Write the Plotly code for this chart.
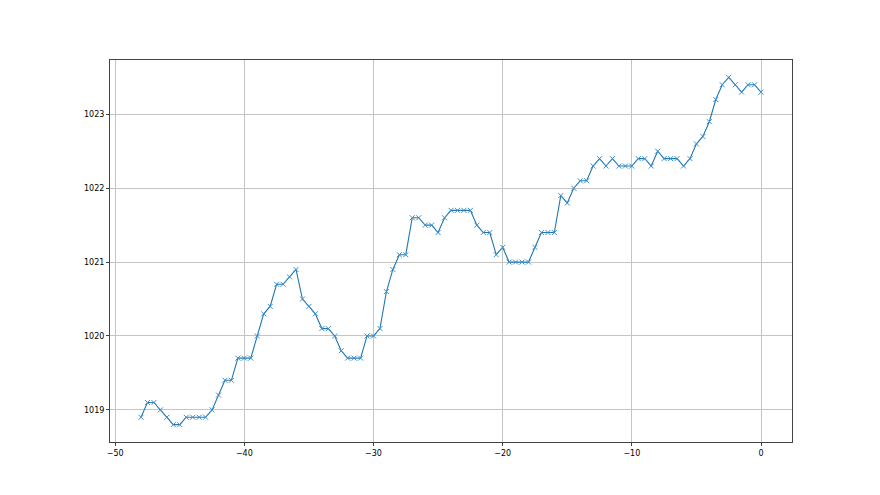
import plotly.graph_objects as go

# hours relative to now
hours = [
    -48.0, -47.5, -47.0, -46.5, -46.0, -45.5, -45.0, -44.5, -44.0, -43.5,
    -43.0, -42.5, -42.0, -41.5, -41.0, -40.5, -40.0, -39.5, -39.0, -38.5,
    -38.0, -37.5, -37.0, -36.5, -36.0, -35.5, -35.0, -34.5, -34.0, -33.5,
    -33.0, -32.5, -32.0, -31.5, -31.0, -30.5, -30.0, -29.5, -29.0, -28.5,
    -28.0, -27.5, -27.0, -26.5, -26.0, -25.5, -25.0, -24.5, -24.0, -23.5,
    -23.0, -22.5, -22.0, -21.5, -21.0, -20.5, -20.0, -19.5, -19.0, -18.5,
    -18.0, -17.5, -17.0, -16.5, -16.0, -15.5, -15.0, -14.5, -14.0, -13.5,
    -13.0, -12.5, -12.0, -11.5, -11.0, -10.5, -10.0, -9.5, -9.0, -8.5,
    -8.0, -7.5, -7.0, -6.5, -6.0, -5.5, -5.0, -4.5, -4.0, -3.5,
    -3.0, -2.5, -2.0, -1.5, -1.0, -0.5, 0.0,
]

# pressure readings (hPa)
pressure = [
    1018.9, 1019.1, 1019.1, 1019.0, 1018.9, 1018.8, 1018.8, 1018.9, 1018.9, 1018.9,
    1018.9, 1019.0, 1019.2, 1019.4, 1019.4, 1019.7, 1019.7, 1019.7, 1020.0, 1020.3,
    1020.4, 1020.7, 1020.7, 1020.8, 1020.9, 1020.5, 1020.4, 1020.3, 1020.1, 1020.1,
    1020.0, 1019.8, 1019.7, 1019.7, 1019.7, 1020.0, 1020.0, 1020.1, 1020.6, 1020.9,
    1021.1, 1021.1, 1021.6, 1021.6, 1021.5, 1021.5, 1021.4, 1021.6, 1021.7, 1021.7,
    1021.7, 1021.7, 1021.5, 1021.4, 1021.4, 1021.1, 1021.2, 1021.0, 1021.0, 1021.0,
    1021.0, 1021.2, 1021.4, 1021.4, 1021.4, 1021.9, 1021.8, 1022.0, 1022.1, 1022.1,
    1022.3, 1022.4, 1022.3, 1022.4, 1022.3, 1022.3, 1022.3, 1022.4, 1022.4, 1022.3,
    1022.5, 1022.4, 1022.4, 1022.4, 1022.3, 1022.4, 1022.6, 1022.7, 1022.9, 1023.2,
    1023.4, 1023.5, 1023.4, 1023.3, 1023.4, 1023.4, 1023.3,
]

x_ticks = [-50, -40, -30, -20, -10, 0]
y_ticks = [1019, 1020, 1021, 1022, 1023]

BLUE = "#1f77b4"

fig = go.Figure(
    go.Scatter(
        x=hours,
        y=pressure,
        mode="lines+markers",
        line=dict(color=BLUE, width=1.1),
        marker=dict(symbol="x-thin", size=5, line=dict(color="#3f8fc8", width=1)),
        showlegend=False,
    )
)

axis_common = dict(
    showgrid=True,
    gridcolor="#c4c4c4",
    gridwidth=0.8,
    zeroline=False,
    showline=True,
    linecolor="#444444",
    linewidth=1,
    mirror=True,
    ticks="outside",
    ticklen=3,
    tickwidth=0.8,
    tickcolor="#444444",
    tickfont=dict(family="DejaVu Sans", size=8, color="black"),
)

fig.update_xaxes(range=[-50.4, 2.4], tickvals=x_ticks, **axis_common)
fig.update_yaxes(range=[1018.565, 1023.735], tickvals=y_ticks, **axis_common)

# page body adds an 8px offset, so margins are shifted to keep the plot box in place
fig.update_layout(
    width=880,
    height=495,
    margin=dict(l=102, r=96, t=52, b=61),
    paper_bgcolor="white",
    plot_bgcolor="white",
)

fig.write_html("out.html")
